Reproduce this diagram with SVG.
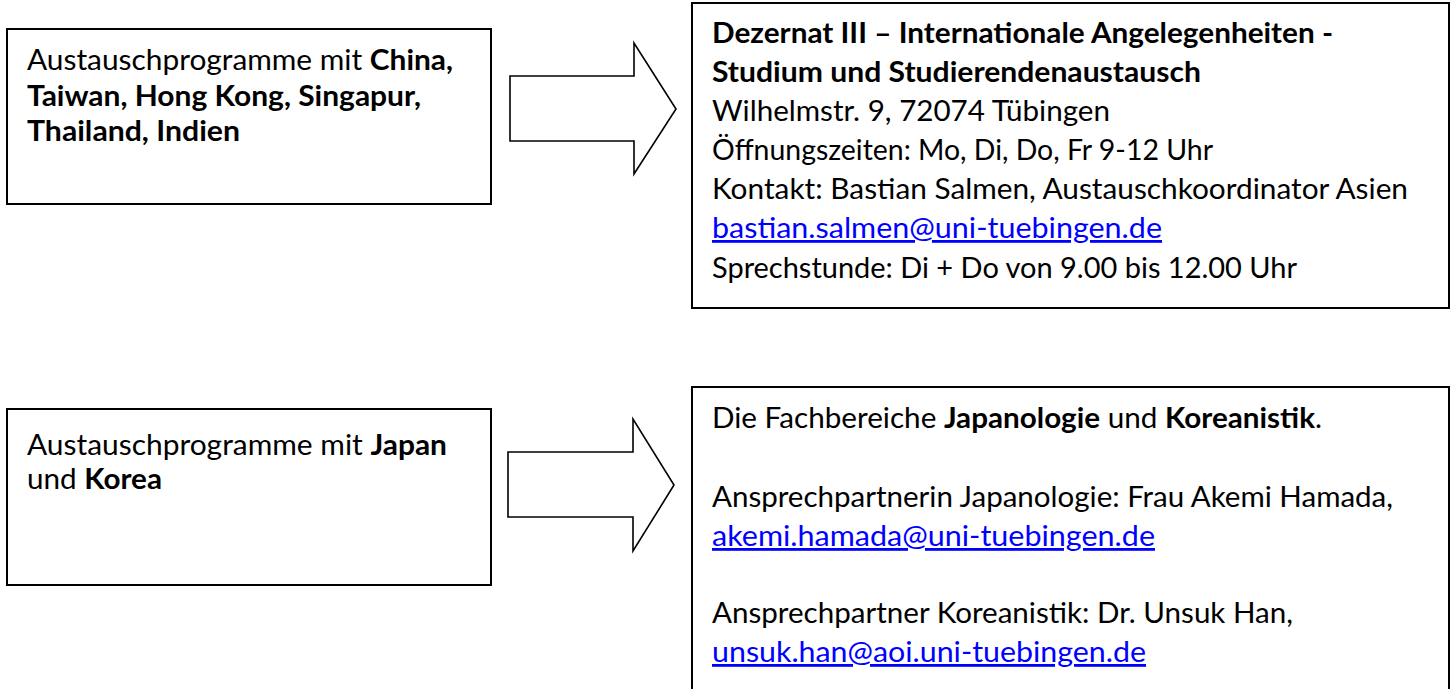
<svg xmlns="http://www.w3.org/2000/svg" width="1455" height="689" viewBox="0 0 1455 689">
  <style>
    .box { fill: #ffffff; stroke: #000000; stroke-width: 2; }
    .arrow { fill: #ffffff; stroke: #000000; stroke-width: 1.6; stroke-linejoin: miter; }
    text { font-family: Lato, "Open Sans", "Liberation Sans", sans-serif; font-size: 28px; fill: #000000; }
    .b { font-weight: bold; }
    .link { fill: #0000ff; text-decoration: underline; }
  </style>
  <rect width="1455" height="689" fill="#ffffff"/>

  <g id="node-china">
    <rect class="box" x="7" y="29" width="484" height="175"/>
    <text x="27" y="70" textLength="426" lengthAdjust="spacingAndGlyphs">Austauschprogramme mit <tspan class="b">China,</tspan></text>
    <text x="27" y="106" class="b" textLength="394" lengthAdjust="spacingAndGlyphs">Taiwan, Hong Kong, Singapur,</text>
    <text x="27" y="141" class="b" textLength="213" lengthAdjust="spacingAndGlyphs">Thailand, Indien</text>
  </g>

  <g id="node-dezernat">
    <rect class="box" x="692" y="3" width="757" height="305"/>
    <text x="712" y="43" class="b" textLength="621" lengthAdjust="spacingAndGlyphs">Dezernat III – Internationale Angelegenheiten -</text>
    <text x="712" y="82" class="b" textLength="489" lengthAdjust="spacingAndGlyphs">Studium und Studierendenaustausch</text>
    <text x="712" y="121" textLength="398" lengthAdjust="spacingAndGlyphs">Wilhelmstr. 9, 72074 Tübingen</text>
    <text x="712" y="160" textLength="501" lengthAdjust="spacingAndGlyphs">Öffnungszeiten: Mo, Di, Do, Fr 9-12 Uhr</text>
    <text x="712" y="199" textLength="696" lengthAdjust="spacingAndGlyphs">Kontakt: Bastian Salmen, Austauschkoordinator Asien</text>
    <text x="712" y="238" class="link" textLength="450" lengthAdjust="spacingAndGlyphs">bastian.salmen@uni-tuebingen.de</text>
    <text x="712" y="278" textLength="585" lengthAdjust="spacingAndGlyphs">Sprechstunde: Di + Do von 9.00 bis 12.00 Uhr</text>
  </g>

  <g id="node-japan-korea">
    <rect class="box" x="7" y="409" width="484" height="176"/>
    <text x="27" y="455" textLength="420" lengthAdjust="spacingAndGlyphs">Austauschprogramme mit <tspan class="b">Japan</tspan></text>
    <text x="27" y="489" textLength="135" lengthAdjust="spacingAndGlyphs">und <tspan class="b">Korea</tspan></text>
  </g>

  <g id="node-fachbereiche">
    <rect class="box" x="692" y="387" width="757" height="320"/>
    <text x="712" y="428" textLength="610" lengthAdjust="spacingAndGlyphs">Die Fachbereiche <tspan class="b">Japanologie</tspan> und <tspan class="b">Koreanistik</tspan>.</text>
    <text x="712" y="507" textLength="681" lengthAdjust="spacingAndGlyphs">Ansprechpartnerin Japanologie: Frau Akemi Hamada,</text>
    <text x="712" y="546" class="link" textLength="443" lengthAdjust="spacingAndGlyphs">akemi.hamada@uni-tuebingen.de</text>
    <text x="712" y="623" textLength="581" lengthAdjust="spacingAndGlyphs">Ansprechpartner Koreanistik: Dr. Unsuk Han,</text>
    <text x="712" y="662" class="link" textLength="434" lengthAdjust="spacingAndGlyphs">unsuk.han@aoi.uni-tuebingen.de</text>
  </g>

  <g id="connectors">
    <polygon class="arrow" points="510,76 634,76 634,43 676,109 634,174 634,141 510,141"/>
    <polygon class="arrow" points="508,452 633,452 633,419 674,485 633,551 633,517 508,517"/>
  </g>
</svg>
